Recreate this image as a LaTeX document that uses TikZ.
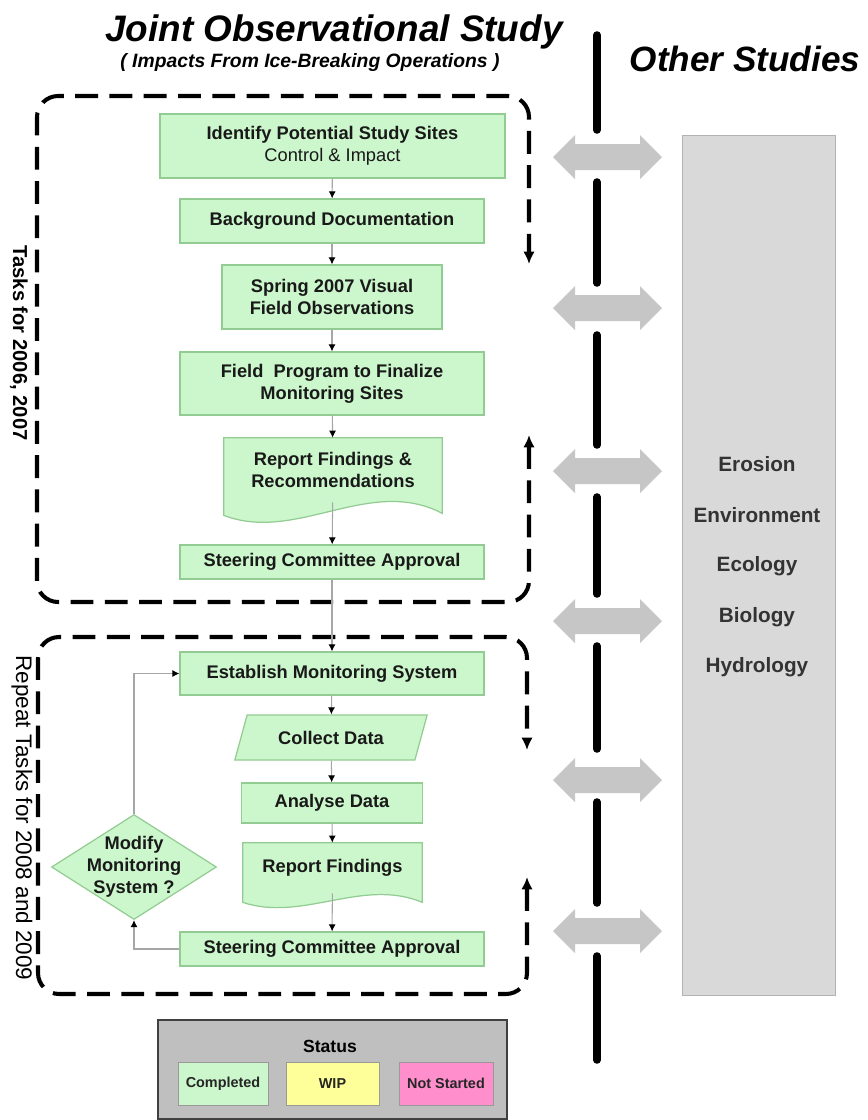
\documentclass[tikz,border=0pt]{standalone}
\usepackage{fontspec}
\setmainfont{Liberation Sans}
\usetikzlibrary{arrows.meta,shapes.geometric,calc,backgrounds}
\definecolor{taskgreen}{HTML}{CCF7CC}
\definecolor{taskedge}{HTML}{92CC92}
\definecolor{wipyellow}{HTML}{FFFF99}
\definecolor{notpink}{HTML}{FF8FCC}
\definecolor{sidegray}{HTML}{D9D9D9}
\definecolor{swapgray}{HTML}{C6C6C6}
\def\twoway(#1){\fill[swapgray] (553,#1) -- (575,#1-22) -- (575,#1-13) -- (640,#1-13) -- (640,#1-22) -- (662,#1) -- (640,#1+22) -- (640,#1+13) -- (575,#1+13) -- (575,#1+22) -- cycle;}
\tikzset{
	task/.style={draw=taskedge, fill=taskgreen, line width=0.7pt, inner sep=2pt, align=center, text=black!90, font=\fontsize{10.4}{12.6}\selectfont\bfseries},
	docpart/.style={inner sep=2pt, align=center, text=black!90, font=\fontsize{10.4}{12.6}\selectfont\bfseries},
	docshape/.style={draw=taskedge, fill=taskgreen, line width=0.7pt},
	flow/.style={draw=black!35, line width=0.6pt, -{Latex[black,length=4pt,width=4pt]}},
	loopline/.style={line width=2.3pt, dash pattern=on 13pt off 6.5pt, rounded corners=12pt, {Latex[length=7pt,width=6.5pt]}-{Latex[length=7pt,width=6.5pt]}},
	divider/.style={line width=4.3pt, line cap=round},
	swatch/.style={draw=black!40, line width=0.5pt, minimum height=0.86cm, font=\fontsize{8.2}{10}\selectfont\bfseries, text=black!85},
	otherlab/.style={font=\fontsize{11.8}{14}\selectfont\bfseries, text=black!80}
}
\begin{document}
\begin{tikzpicture}[x=0.02cm, y=-0.02cm]
			%%%%% START %%%%%
			\useasboundingbox (0,0) rectangle (867,1120);
			
			% headings
			\node[anchor=base, font=\fontsize{21}{25}\selectfont\bfseries\itshape] (title) at (334,41) {Joint Observational Study};
			\node[anchor=base, font=\fontsize{11}{13}\selectfont\bfseries\itshape] (subtitle) at (310,67) {( Impacts From Ice-Breaking Operations )};
			\node[anchor=base, font=\fontsize{20}{24}\selectfont\bfseries\itshape] (other) at (745,71) {Other Studies};
			
			% divider and exchange arrows
			\foreach \a/\b in {35/130, 182/283, 335/445, 497/594, 646/749, 802/903, 956/1060}
				\draw[divider] (597,\a) -- (597,\b);
			\foreach \y in {157,308,471,621,780,931}
				{\twoway(\y)}
			
			\node[draw=black!30, fill=sidegray, minimum width=3.06cm, minimum height=17.2cm] (others) at (758.5,565) {};
			\node[otherlab] (erosion) at (757,464) {Erosion};
			\node[otherlab] (environ) at (757,515) {Environment};
			\node[otherlab] (ecology) at (757,566) {Ecology};
			\node[otherlab] (biology) at (757,617) {Biology};
			\node[otherlab] (hydro) at (757,667) {Hydrology};
			
			% tasks 2006, 2007
			\draw[loopline] (529,435) -- (529,602) -- (37,602) -- (37,96) -- (529,96) -- (529,264);
			\node[rotate=-90, font=\fontsize{11.5}{14}\selectfont\bfseries] (tasksA) at (19,343) {Tasks for 2006, 2007};
			
			\node[task, minimum width=6.9cm, minimum height=1.28cm] (ident) at (332.5,146) {Identify Potential Study Sites\\\mdseries Control \& Impact};
			\node[task, minimum width=6.08cm, minimum height=0.88cm] (backg) at (332,221) {Background Documentation};
			\node[task, minimum width=4.4cm, minimum height=1.28cm] (spring) at (332,297) {Spring 2007 Visual\\Field Observations};
			\node[task, minimum width=6.08cm, minimum height=1.26cm] (fieldp) at (332,383.5) {Field\ \ Program to Finalize\\Monitoring Sites};
			\node[docpart, minimum width=4.36cm, minimum height=1.28cm] (repA) at (333,470) {Report Findings \&\\Recommendations};
			\node[task, minimum width=6.08cm, minimum height=0.68cm] (steerA) at (332,562) {Steering Committee Approval};
			
			% repeat tasks 2008 and 2009
			\draw[loopline] (527,877) -- (527,994) -- (38,994) -- (38,637) -- (527,637) -- (527,750);
			\node[rotate=-90, font=\fontsize{12.8}{15}\selectfont] (tasksB) at (22,818) {Repeat Tasks for 2008 and 2009};
			
			\node[task, minimum width=6.08cm, minimum height=0.86cm] (establ) at (332,673.5) {Establish Monitoring System};
			\node[task, trapezium, trapezium left angle=68, trapezium right angle=112, trapezium stretches=true, minimum width=3.85cm, minimum height=0.9cm] (collect) at (331,737.5) {Collect Data};
			\node[task, minimum width=3.62cm, minimum height=0.8cm] (analyse) at (332,803) {Analyse Data};
			\node[docpart, minimum width=3.58cm, minimum height=1.0cm] (repB) at (332.5,868) {Report Findings};
			\node[task, minimum width=6.08cm, minimum height=0.68cm] (steerB) at (332,949) {Steering Committee Approval};
			\node[task, diamond, minimum width=3.3cm, minimum height=2.1cm, inner sep=0pt] (modify) at (134,867) {};
			\node[docpart] (modifytext) at (modify) {Modify\\Monitoring\\System ?};
			
			\begin{scope}[on background layer]
				\filldraw[docshape] (repA.north west) -- (repA.north east) -- ($(repA.south east)+(0,11)$) .. controls +(-73,-38) and +(73,28) .. ($(repA.south west)+(0,13)$) -- cycle;
				\filldraw[docshape] (repB.north west) -- (repB.north east) -- ($(repB.south east)+(0,9)$) .. controls +(-60,-25) and +(60,20) .. ($(repB.south west)+(0,9)$) -- cycle;
			\end{scope}
			
			\foreach \a/\b in {ident/backg, backg/spring, spring/fieldp, fieldp/repA, repA/steerA, steerA/establ, establ/collect, collect/analyse, analyse/repB, repB/steerB}
				\draw[flow] (\a) -- (\b);
			\draw[flow] (steerB.west) -| (modify.south);
			\draw[flow] (modify.north) |- (establ.west);
			
			% status legend
			\node[draw=black!75, fill=black!25, line width=1pt, minimum width=6.98cm, minimum height=1.98cm] (legend) at (332.5,1069.5) {};
			\node[font=\fontsize{10}{12}\selectfont\bfseries] (status) at (330,1046) {Status};
			\node[swatch, fill=taskgreen, minimum width=1.8cm] (done) at (223,1083.5) {Completed};
			\node[swatch, fill=wipyellow, minimum width=1.86cm] (wip) at (332.5,1083.5) {WIP};
			\node[swatch, fill=notpink, minimum width=1.88cm] (notyet) at (446,1083.5) {Not Started};
			
			%%%%% END %%%%%
\end{tikzpicture}
\end{document}
